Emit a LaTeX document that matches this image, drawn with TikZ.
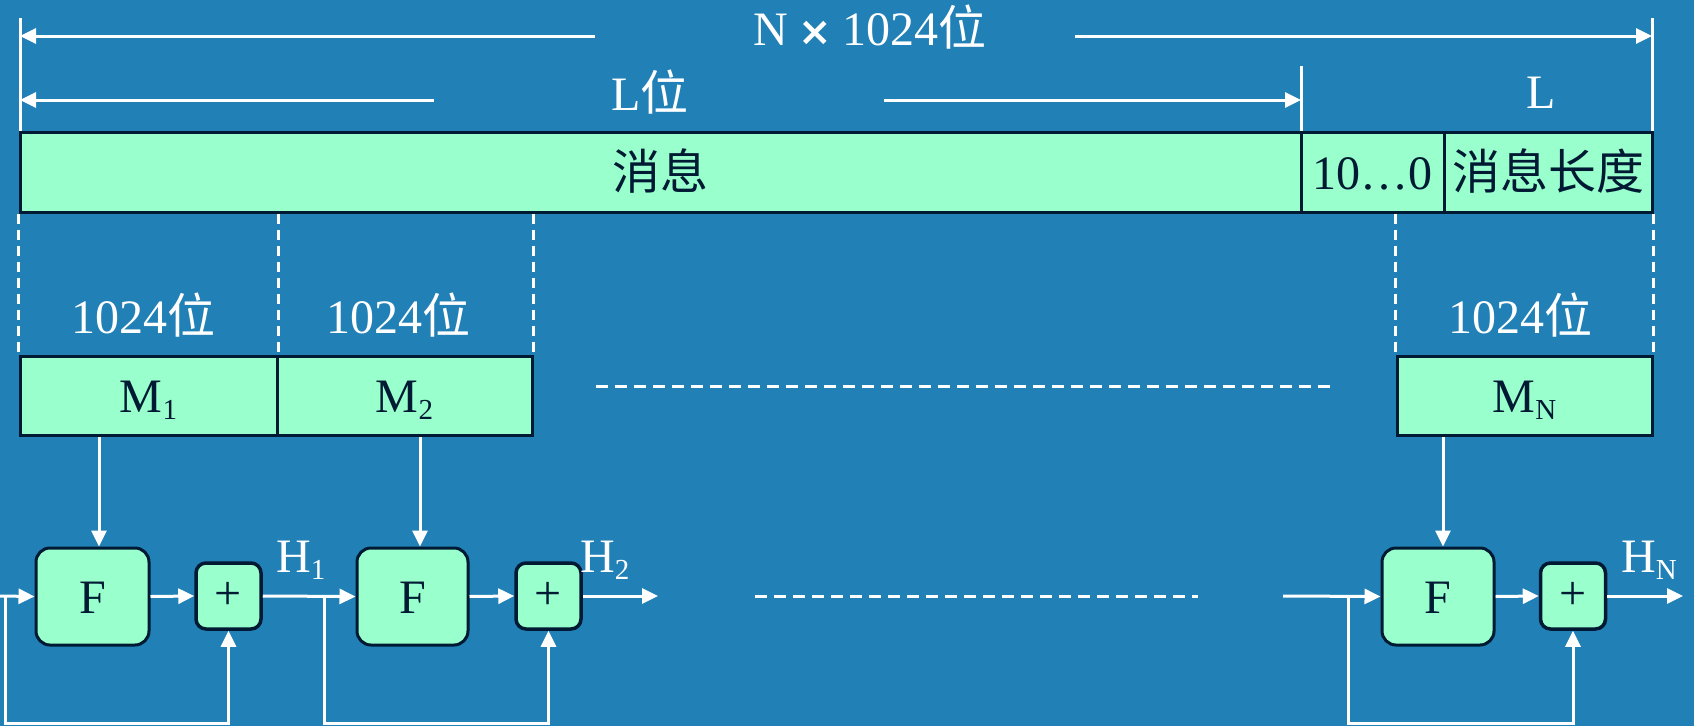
\documentclass[tikz,border=0pt]{standalone}
\usepackage{fontspec}
\setmainfont{Liberation Serif}
\newfontfamily\cjk{Noto Sans CJK SC}
\newfontfamily\symf{DejaVu Sans}
\usetikzlibrary{arrows.meta}
\definecolor{bg}{RGB}{33,128,182}
\definecolor{mint}{RGB}{153,255,204}
\definecolor{ink}{RGB}{0,26,51}
\newcommand\zh[1]{{\cjk #1}}
\newcommand\sbx[1]{\raisebox{-7pt}{\fontsize{29}{30}\selectfont #1}}
\begin{document}
\begin{tikzpicture}[x=1pt,y=-1pt,
  every node/.style={font=\fontsize{48}{56}\selectfont},
  cell/.style={draw=ink, line width=3pt, fill=mint, text=ink, inner sep=0pt,
    text height=34pt, text depth=0pt},
  fbox/.style={cell, rounded corners=14pt, minimum height=97pt},
  pbox/.style={draw=ink, line width=3.5pt, fill=mint, text=ink, inner sep=0pt,
    rounded corners=10pt, minimum width=65pt, minimum height=66pt},
  lbl/.style={text=white, inner sep=0pt, anchor=base},
  wire/.style={draw=white, line width=3pt},
  arr/.style={wire, -{Triangle[length=16pt,width=15pt]}},
  dsh/.style={draw=white, line width=3pt, dash pattern=on 12pt off 7pt},
  vdsh/.style={draw=white, line width=2.5pt, dash pattern=on 10pt off 6pt}]
\fill[bg] (0,0) rectangle (1694,726);
\useasboundingbox (0,0) rectangle (1694,726);

% message bar
\node[cell, minimum width=1281pt, minimum height=80pt] (msg) at (660.5,172) {\zh{消息}};
\node[cell, minimum width=143pt, minimum height=80pt] (pad) at (1372.5,172) {10…0};
\node[cell, minimum width=208pt, minimum height=80pt] (len) at (1548,172) {\zh{消息长度}};

% top dimension lines
\coordinate (tl) at (20,18);
\coordinate (tr) at (1652,18);
\coordinate (tm) at (1301,66);
\draw[wire] (tl) -- (tl |- msg.north);
\draw[wire] (tr) -- (tr |- len.north);
\draw[wire] (tm) -- (tm |- pad.north);
\coordinate (a1) at (595,36);
\coordinate (a2) at (1075,36);
\draw[arr] (a1) -- (a1 -| tl);
\draw[arr] (a2) -- (a2 -| tr);
\node[lbl] (nt) at (870,45) {N\hspace{10pt}{\symf\bfseries\fontsize{40}{40}\selectfont ×}\hspace{10pt}1024\zh{位}};
\coordinate (b1) at (434,100);
\coordinate (b2) at (884,100);
\draw[arr] (b1) -- (b1 -| tl);
\draw[arr] (b2) -- (b2 -| tm);
\node[lbl] (lw) at (650,110) {L\zh{位}};
\node[lbl] (ll) at (1541,108) {L};

% blocks
\node[cell, minimum width=257pt, minimum height=79pt] (M1) at (148.5,395.5) {M\sbx{1}};
\node[cell, minimum width=255pt, minimum height=79pt] (M2) at (404.5,395.5) {M\sbx{2}};
\node[cell, minimum width=255pt, minimum height=79pt] (MN) at (1524.5,395.5) {M\sbx{N}};
\node[lbl] (k1) at (143,333) {1024\zh{位}};
\node[lbl] (k2) at (398,333) {1024\zh{位}};
\node[lbl] (kN) at (1520,333) {1024\zh{位}};

\draw[vdsh] (msg.south west) -- (M1.north west);
\draw[vdsh] (M1.north east |- msg.south) -- (M1.north east);
\draw[vdsh] (M2.north east |- msg.south) -- (M2.north east);
\draw[vdsh] (MN.north west |- msg.south) -- (MN.north west);
\draw[vdsh] (len.south east) -- (MN.north east);

\coordinate (e1) at (596,386);
\coordinate (e2) at (1331,386);
\draw[dsh] (e1) -- (e2);

% compression chain
\node[fbox, minimum width=113pt] (F1) at (92.5,596.5) {F};
\node[fbox, minimum width=111pt] (F2) at (412.5,596.5) {F};
\node[fbox, minimum width=112pt] (FN) at (1438,596.5) {F};
\node[pbox] (P1) at (228.5,596) {+};
\node[pbox] (P2) at (548.5,596) {+};
\node[pbox] (PN) at (1573,596) {+};

\coordinate (m1) at (99,437);
\coordinate (m2) at (420,437);
\coordinate (mN) at (1443,437);
\draw[arr] (m1) -- (m1 |- F1.north);
\draw[arr] (m2) -- (m2 |- F2.north);
\draw[arr] (mN) -- (mN |- FN.north);

\coordinate (in1) at (0,596);
\coordinate (fb1) at (5,596);
\coordinate (fb1b) at (5,723);
\draw[arr] (in1) -- (F1.west);
\draw[arr] (fb1) -- (fb1b) -| (P1.south);
\draw[arr] (F1.east) -- (P1.west);
\draw[arr] (P1.east) -- (F2.west);
\coordinate (br1) at (324,596);
\coordinate (br1b) at (324,723);
\draw[arr] (br1) -- (br1b) -| (P2.south);
\draw[arr] (F2.east) -- (P2.west);
\coordinate (o2) at (658,596);
\draw[arr] (P2.east) -- (o2);
\coordinate (g1) at (755,596);
\coordinate (g2) at (1198,596);
\draw[dsh] (g1) -- (g2);
\coordinate (inN) at (1283,596);
\draw[arr] (inN) -- (FN.west);
\coordinate (brN) at (1348,596);
\coordinate (brNb) at (1348,723);
\draw[arr] (brN) -- (brNb) -| (PN.south);
\draw[arr] (FN.east) -- (PN.west);
\coordinate (oN) at (1683,596);
\draw[arr] (PN.east) -- (oN);

\node[lbl, anchor=base west] (h1) at (276,572) {H\sbx{1}};
\node[lbl, anchor=base west] (h2) at (580,572) {H\sbx{2}};
\node[lbl, anchor=base west] (hN) at (1621,572) {H\sbx{N}};
\end{tikzpicture}
\end{document}
